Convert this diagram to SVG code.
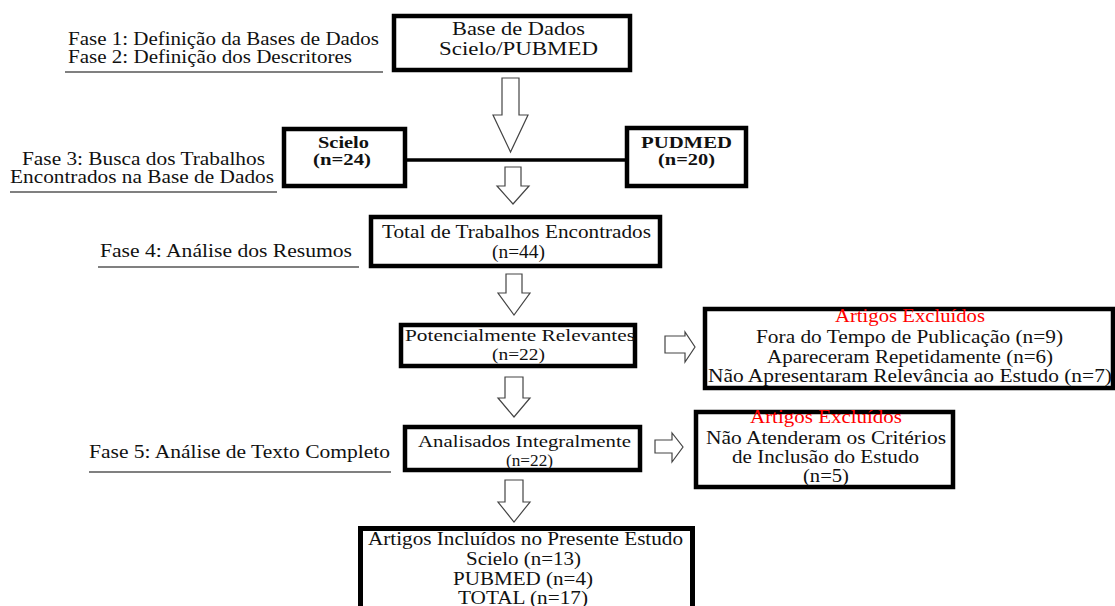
<svg xmlns="http://www.w3.org/2000/svg" width="1115" height="606" viewBox="0 0 1115 606">
<style>
text{font-family:"Liberation Serif","Times New Roman",serif;font-size:18.5px;fill:#111;}
.b{font-weight:bold;font-size:16.5px;}
.s{font-size:17px;}
.red{fill:#f00;}
.box{fill:#fff;stroke:#000;stroke-width:4.5;}
.arr{fill:#fff;stroke:#444;stroke-width:1.2;stroke-linejoin:miter;}
.ul{stroke:#808080;stroke-width:2;}
.conn{stroke:#000;stroke-width:3.5;}
</style>
<g id="labels">
<text x="68" y="45" textLength="311" lengthAdjust="spacingAndGlyphs">Fase 1: Definição da Bases de Dados</text>
<text x="68" y="63" textLength="284" lengthAdjust="spacingAndGlyphs">Fase 2: Definição dos Descritores</text>
<line class="ul" x1="65" y1="72" x2="383" y2="72"/>
<text x="22" y="165" textLength="243" lengthAdjust="spacingAndGlyphs">Fase 3: Busca dos Trabalhos</text>
<text x="10" y="183" textLength="264" lengthAdjust="spacingAndGlyphs">Encontrados na Base de Dados</text>
<line class="ul" x1="10" y1="192" x2="277" y2="192"/>
<text x="100" y="257" textLength="252" lengthAdjust="spacingAndGlyphs">Fase 4: Análise dos Resumos</text>
<line class="ul" x1="98" y1="267" x2="359" y2="267"/>
<text x="89" y="458" textLength="301" lengthAdjust="spacingAndGlyphs">Fase 5: Análise de Texto Completo</text>
<line class="ul" x1="89" y1="472" x2="391" y2="472"/>
</g>
<g id="connectors">
<line class="conn" x1="407" y1="160" x2="625" y2="160"/>
<path class="arr" d="M502,78 H519 V115 H528 L510.5,152 L493,115 H502 Z"/>
<path class="arr" d="M505,167 H521 V186 H529 L513,204 L497,186 H505 Z"/>
<path class="arr" d="M506,274 H522 V293 H530 L514,315 L498,293 H506 Z"/>
<path class="arr" d="M505,377 H523 V398 H530 L514,417 L498,398 H505 Z"/>
<path class="arr" d="M505,480 H523 V502 H530 L514,522 L498,502 H505 Z"/>
<path class="arr" d="M665,336 H685 V332 L695,347 L685,362 V353 H665 Z"/>
<path class="arr" d="M655,440 H672 V433 L683,447 L672,462 V453 H655 Z"/>
</g>
<g id="base">
<rect class="box" x="394" y="16" width="236" height="54"/>
<text x="452" y="35" textLength="133" lengthAdjust="spacingAndGlyphs">Base de Dados</text>
<text x="439" y="55" textLength="159" lengthAdjust="spacingAndGlyphs">Scielo/PUBMED</text>
</g>
<g id="scielo">
<rect class="box" x="284" y="129" width="121" height="57"/>
<text class="b" x="318" y="148" textLength="51" lengthAdjust="spacingAndGlyphs">Scielo</text>
<text class="b" x="313" y="165" textLength="58" lengthAdjust="spacingAndGlyphs">(n=24)</text>
</g>
<g id="pudmed">
<rect class="box" x="627" y="128" width="119" height="58"/>
<text class="b" x="641" y="148" textLength="91" lengthAdjust="spacingAndGlyphs">PUDMED</text>
<text class="b" x="658" y="165" textLength="57" lengthAdjust="spacingAndGlyphs">(n=20)</text>
</g>
<g id="total">
<rect class="box" x="371" y="217" width="289" height="49"/>
<text x="382" y="238" textLength="269" lengthAdjust="spacingAndGlyphs">Total de Trabalhos Encontrados</text>
<text x="492" y="258" textLength="53" lengthAdjust="spacingAndGlyphs">(n=44)</text>
</g>
<g id="potencial">
<rect class="box" x="401" y="325" width="234" height="41"/>
<text class="s" x="405" y="341" textLength="230" lengthAdjust="spacingAndGlyphs">Potencialmente Relevantes</text>
<text class="s" x="492" y="360" textLength="53" lengthAdjust="spacingAndGlyphs">(n=22)</text>
</g>
<g id="excluidos1">
<rect class="box" x="705" y="309" width="408" height="79"/>
<text class="red" x="835" y="322" textLength="150" lengthAdjust="spacingAndGlyphs">Artigos Excluídos</text>
<text x="756" y="343" textLength="307" lengthAdjust="spacingAndGlyphs">Fora do Tempo de Publicação (n=9)</text>
<text x="767" y="363" textLength="286" lengthAdjust="spacingAndGlyphs">Apareceram Repetidamente (n=6)</text>
<text x="708" y="382" textLength="404" lengthAdjust="spacingAndGlyphs">Não Apresentaram Relevância ao Estudo (n=7)</text>
</g>
<g id="analisados">
<rect class="box" x="405" y="427" width="235" height="43"/>
<text class="s" x="418" y="447" textLength="213" lengthAdjust="spacingAndGlyphs">Analisados Integralmente</text>
<text class="s" x="506" y="466" textLength="47" lengthAdjust="spacingAndGlyphs">(n=22)</text>
</g>
<g id="excluidos2">
<rect class="box" x="696" y="412" width="257" height="75"/>
<text class="red" x="750" y="423" textLength="152" lengthAdjust="spacingAndGlyphs">Artigos Excluídos</text>
<text x="706" y="444" textLength="240" lengthAdjust="spacingAndGlyphs">Não Atenderam os Critérios</text>
<text x="732" y="463" textLength="187" lengthAdjust="spacingAndGlyphs">de Inclusão do Estudo</text>
<text x="803" y="482" textLength="46" lengthAdjust="spacingAndGlyphs">(n=5)</text>
</g>
<g id="incluidos">
<rect class="box" x="360.5" y="528.5" width="332" height="90" style="stroke-width:5"/>
<text x="368" y="545" textLength="315" lengthAdjust="spacingAndGlyphs">Artigos Incluídos no Presente Estudo</text>
<text x="466" y="565" textLength="115" lengthAdjust="spacingAndGlyphs">Scielo (n=13)</text>
<text x="453" y="585" textLength="140" lengthAdjust="spacingAndGlyphs">PUBMED (n=4)</text>
<text x="458" y="604" textLength="130" lengthAdjust="spacingAndGlyphs">TOTAL (n=17)</text>
</g>
</svg>
